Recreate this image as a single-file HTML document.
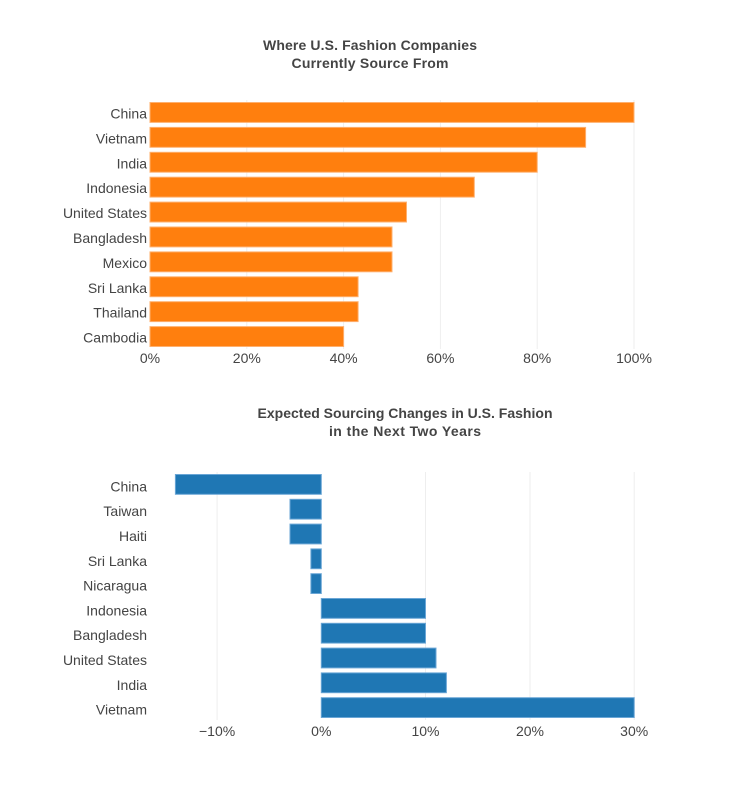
<!DOCTYPE html>
<html><head><meta charset="utf-8"><style>
html,body{margin:0;padding:0;background:#fff;}
svg{display:block;font-family:"Liberation Sans",Arial,sans-serif;}
.t{font-size:14px;font-weight:bold;fill:#444;}
.l{font-size:14px;fill:#444;}
</style></head><body>
<svg width="740" height="800" viewBox="0 0 740 800" xmlns="http://www.w3.org/2000/svg">
<rect width="740" height="800" fill="#fff"/>
<!-- Top title -->
<text class="t" x="370" y="50" text-anchor="middle" textLength="214" lengthAdjust="spacing">Where U.S. Fashion Companies</text>
<text class="t" x="370" y="68" text-anchor="middle" textLength="157" lengthAdjust="spacing">Currently Source From</text>
<!-- Top grid -->
<g stroke="#eee" stroke-width="1">
<line x1="246.8" y1="100" x2="246.8" y2="349"/>
<line x1="343.6" y1="100" x2="343.6" y2="349"/>
<line x1="440.4" y1="100" x2="440.4" y2="349"/>
<line x1="537.2" y1="100" x2="537.2" y2="349"/>
<line x1="634" y1="100" x2="634" y2="349"/>
</g>
<!-- Top bars -->
<g fill="#ff7f0e" stroke="#ffb06e" stroke-width="1">
<rect x="150" y="102.5" width="484" height="19.9"/>
<rect x="150" y="127.4" width="435.6" height="19.9"/>
<rect x="150" y="152.3" width="387.2" height="19.9"/>
<rect x="150" y="177.2" width="324.3" height="19.9"/>
<rect x="150" y="202.1" width="256.5" height="19.9"/>
<rect x="150" y="227" width="242" height="19.9"/>
<rect x="150" y="251.9" width="242" height="19.9"/>
<rect x="150" y="276.8" width="208.1" height="19.9"/>
<rect x="150" y="301.7" width="208.1" height="19.9"/>
<rect x="150" y="326.6" width="193.6" height="19.9"/>
</g>
<g text-anchor="end">
<text class="l" x="147" y="118.5">China</text>
<text class="l" x="147" y="143.4">Vietnam</text>
<text class="l" x="147" y="168.3">India</text>
<text class="l" x="147" y="193.2">Indonesia</text>
<text class="l" x="147" y="218.1">United States</text>
<text class="l" x="147" y="243">Bangladesh</text>
<text class="l" x="147" y="267.9">Mexico</text>
<text class="l" x="147" y="292.8">Sri Lanka</text>
<text class="l" x="147" y="317.7">Thailand</text>
<text class="l" x="147" y="342.6">Cambodia</text>
</g>
<g text-anchor="middle">
<text class="l" x="150" y="363">0%</text>
<text class="l" x="246.8" y="363">20%</text>
<text class="l" x="343.6" y="363">40%</text>
<text class="l" x="440.4" y="363">60%</text>
<text class="l" x="537.2" y="363">80%</text>
<text class="l" x="634" y="363">100%</text>
</g>

<!-- Bottom title -->
<text class="t" x="405" y="418" text-anchor="middle" textLength="295" lengthAdjust="spacing">Expected Sourcing Changes in U.S. Fashion</text>
<text class="t" x="405" y="436" text-anchor="middle" textLength="152" lengthAdjust="spacing">in the Next Two Years</text>
<!-- Bottom grid -->
<g stroke="#eee" stroke-width="1">
<line x1="217.1" y1="472" x2="217.1" y2="720"/>
<line x1="425.5" y1="472" x2="425.5" y2="720"/>
<line x1="530" y1="472" x2="530" y2="720"/>
<line x1="634.2" y1="472" x2="634.2" y2="720"/>
</g>
<!-- Bottom bars -->
<g fill="#1f77b4" stroke="#6aa6d6" stroke-width="1">
<rect x="175.4" y="474.5" width="145.9" height="19.8"/>
<rect x="290" y="499.3" width="31.3" height="19.8"/>
<rect x="290" y="524.1" width="31.3" height="19.8"/>
<rect x="310.9" y="548.9" width="10.4" height="19.8"/>
<rect x="310.9" y="573.7" width="10.4" height="19.8"/>
<rect x="321.3" y="598.5" width="104.2" height="19.8"/>
<rect x="321.3" y="623.3" width="104.2" height="19.8"/>
<rect x="321.3" y="648.1" width="114.7" height="19.8"/>
<rect x="321.3" y="672.9" width="125.1" height="19.8"/>
<rect x="321.3" y="697.7" width="312.9" height="19.8"/>
</g>
<g text-anchor="end">
<text class="l" x="147" y="491.4">China</text>
<text class="l" x="147" y="516.2">Taiwan</text>
<text class="l" x="147" y="541">Haiti</text>
<text class="l" x="147" y="565.8">Sri Lanka</text>
<text class="l" x="147" y="590.6">Nicaragua</text>
<text class="l" x="147" y="615.4">Indonesia</text>
<text class="l" x="147" y="640.2">Bangladesh</text>
<text class="l" x="147" y="665">United States</text>
<text class="l" x="147" y="689.8">India</text>
<text class="l" x="147" y="714.6">Vietnam</text>
</g>
<g text-anchor="middle">
<text class="l" x="217.1" y="736">−10%</text>
<text class="l" x="321.3" y="736">0%</text>
<text class="l" x="425.5" y="736">10%</text>
<text class="l" x="530" y="736">20%</text>
<text class="l" x="634.2" y="736">30%</text>
</g>
</svg>
</body></html>
